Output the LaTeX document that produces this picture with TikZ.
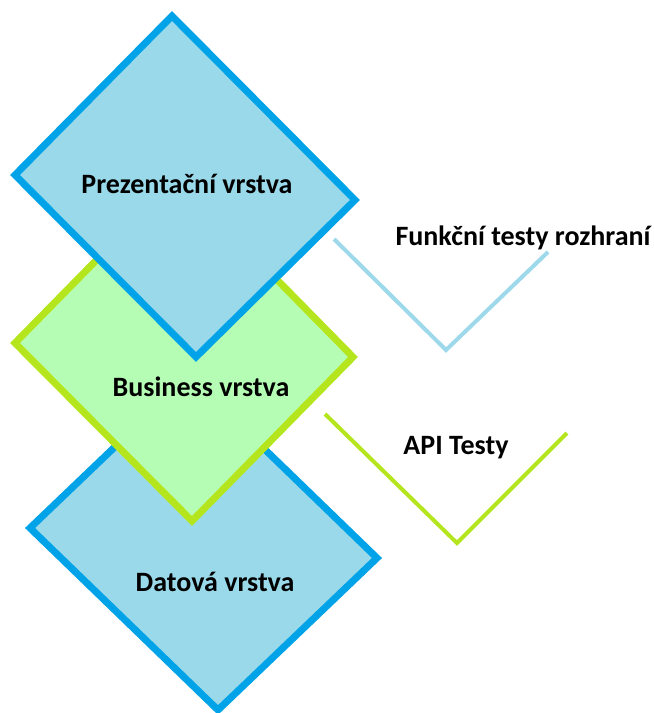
\documentclass[tikz,border=0pt]{standalone}
\usepackage{fontspec}
\setmainfont{Carlito}
\definecolor{bborder}{RGB}{0,162,232}
\definecolor{bfill}{RGB}{153,217,234}
\definecolor{gborder}{RGB}{181,230,29}
\definecolor{gfill}{RGB}{181,253,181}
\definecolor{lblue}{RGB}{157,217,234}
\begin{document}
\begin{tikzpicture}[x=1pt,y=-1pt,
  layerblue/.style={draw=bborder,fill=bfill,line width=7pt,line join=miter},
  layergreen/.style={draw=gborder,fill=gfill,line width=7pt,line join=miter},
  vline/.style={line width=4pt,line join=miter},
  lbl/.style={font=\bfseries\fontsize{28}{33}\selectfont,text=black,inner sep=0pt}]
\useasboundingbox (0,0) rectangle (654,713);
% Datova
\coordinate (dT) at (189,376);
\coordinate (dL) at (30,528);
\coordinate (dB) at (218,710);
\coordinate (dR) at (377,558);
\draw[layerblue] (dT) -- (dR) -- (dB) -- (dL) -- cycle;
% Business
\coordinate (bT) at (177,178);
\coordinate (bL) at (15,343);
\coordinate (bB) at (192,521);
\coordinate (bR) at (353,357);
\draw[layergreen] (bT) -- (bR) -- (bB) -- (bL) -- cycle;
% Prezentacni
\coordinate (pT) at (172,16);
\coordinate (pL) at (15,175);
\coordinate (pB) at (196,357);
\coordinate (pR) at (355,200);
\draw[layerblue] (pT) -- (pR) -- (pB) -- (pL) -- cycle;
% V lines
\coordinate (v1a) at (334,239);
\coordinate (v1b) at (446,350);
\coordinate (v1c) at (548,252);
\draw[vline,draw=lblue] (v1a) -- (v1b) -- (v1c);
\coordinate (v2a) at (325,414);
\coordinate (v2b) at (457,543);
\coordinate (v2c) at (567,433);
\draw[vline,draw=gborder] (v2a) -- (v2b) -- (v2c);
% labels
\node[lbl] (tp) at (187,184) {Prezentační vrstva};
\node[lbl] (tb) at (201,387) {Business vrstva};
\node[lbl] (td) at (215,582) {Datová vrstva};
\node[lbl] (tf) at (523,238) {Funkční testy rozhraní};
\node[lbl] (ta) at (456,448) {API Testy};
\end{tikzpicture}
\end{document}
